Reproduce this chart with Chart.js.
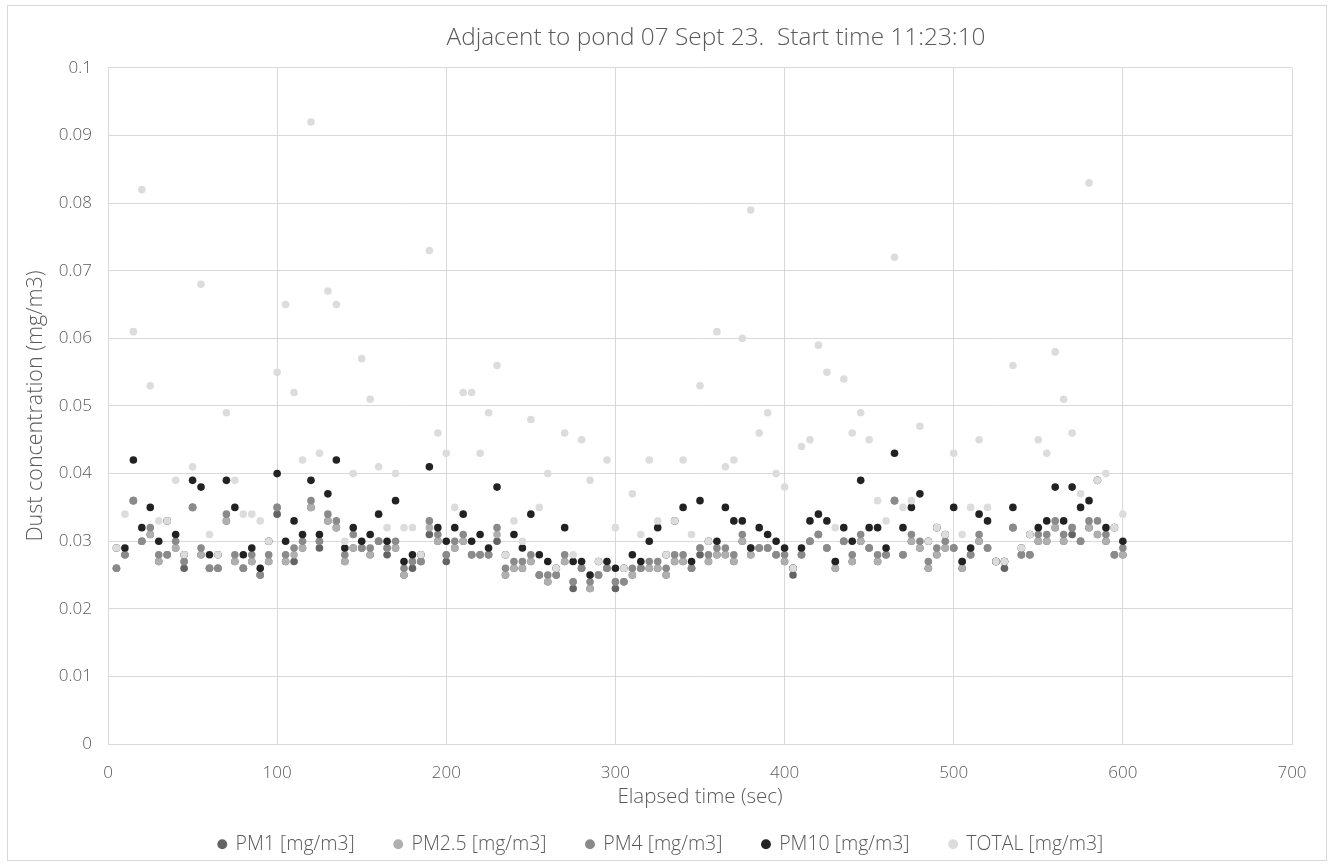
<!DOCTYPE html>
<html>
<head>
<meta charset="utf-8">
<script src="https://cdn.jsdelivr.net/npm/chart.js@4.4.1/dist/chart.umd.min.js"></script>
<style>
  html, body { margin: 0; padding: 0; background: #ffffff; }
  #wrap { position: relative; width: 1335px; height: 867px; }
  #frame { position: absolute; left: 7px; top: 5px; width: 1320px; height: 856px; border: 1px solid #d9d9d9; box-sizing: border-box; pointer-events: none; }
  canvas { position: absolute; left: 0; top: 0; }
</style>
</head>
<body>
<div id="wrap">
  <canvas id="c" width="1335" height="867"></canvas>
  <div id="frame"></div>
</div>
<script>
// Elapsed time (sec)
const elapsed = [5,10,15,20,25,30,35,40,45,50,55,60,65,70,75,80,85,90,95,100,
  105,110,115,120,125,130,135,140,145,150,155,160,165,170,175,180,185,190,195,200,
  205,210,215,220,225,230,235,240,245,250,255,260,265,270,275,280,285,290,295,300,
  305,310,315,320,325,330,335,340,345,350,355,360,365,370,375,380,385,390,395,400,
  405,410,415,420,425,430,435,440,445,450,455,460,465,470,475,480,485,490,495,500,
  505,510,515,520,525,530,535,540,545,550,555,560,565,570,575,580,585,590,595,600];

const pm1 = [
  .026,.028,.036,.030,.031,.027,.028,.029,.026,.035,
  .028,.026,.026,.033,.027,.026,.027,.025,.027,.034,
  .027,.027,.029,.035,.029,.033,.032,.027,.029,.029,
  .028,.030,.028,.029,.025,.026,.027,.031,.030,.027,
  .029,.030,.028,.028,.028,.030,.025,.026,.026,.027,
  .025,.024,.025,.027,.023,.026,.023,.025,.026,.023,
  .024,.025,.026,.026,.026,.025,.027,.027,.026,.028,
  .027,.028,.028,.027,.030,.028,.029,.029,.028,.027,
  .025,.028,.030,.031,.029,.026,.030,.027,.030,.029,
  .027,.028,.036,.028,.030,.029,.026,.028,.029,.029,
  .026,.028,.030,.029,.027,.026,.032,.028,.028,.030,
  .030,.032,.030,.031,.030,.032,.031,.030,.028,.028];

const pm25 = [
  .026,.028,.036,.030,.031,.027,.028,.029,.027,.035,
  .028,.026,.026,.033,.027,.026,.027,.025,.027,.035,
  .027,.028,.029,.035,.030,.033,.032,.027,.029,.029,
  .028,.030,.029,.029,.025,.027,.027,.032,.030,.028,
  .029,.030,.028,.028,.028,.031,.025,.026,.026,.027,
  .025,.024,.025,.027,.024,.026,.023,.025,.026,.024,
  .024,.025,.026,.026,.026,.025,.027,.027,.026,.029,
  .027,.028,.028,.027,.030,.028,.029,.029,.028,.027,
  .026,.028,.030,.031,.029,.026,.030,.027,.030,.029,
  .027,.028,.036,.028,.030,.029,.026,.028,.029,.029,
  .026,.028,.030,.029,.027,.027,.032,.028,.028,.030,
  .030,.032,.030,.032,.030,.032,.031,.030,.028,.028];

const pm4 = [
  .026,.028,.036,.030,.032,.028,.028,.030,.027,.035,
  .029,.026,.026,.034,.028,.026,.028,.025,.028,.035,
  .028,.029,.030,.036,.030,.034,.033,.028,.031,.029,
  .029,.030,.029,.030,.026,.027,.027,.033,.031,.028,
  .030,.031,.028,.028,.028,.032,.026,.027,.027,.028,
  .025,.025,.025,.028,.024,.026,.024,.025,.026,.024,
  .024,.026,.026,.027,.027,.026,.028,.028,.026,.029,
  .028,.029,.029,.028,.031,.029,.029,.029,.028,.028,
  .026,.028,.030,.031,.029,.027,.030,.028,.031,.029,
  .028,.028,.036,.028,.031,.030,.027,.029,.030,.029,
  .027,.028,.031,.029,.027,.027,.032,.028,.028,.031,
  .031,.033,.031,.032,.030,.033,.033,.031,.028,.029];

const pm10 = [
  .029,.029,.042,.032,.035,.030,.033,.031,.028,.039,
  .038,.028,.028,.039,.035,.028,.029,.026,.030,.040,
  .030,.033,.031,.039,.031,.037,.042,.029,.032,.030,
  .031,.034,.030,.036,.027,.028,.028,.041,.032,.030,
  .032,.034,.030,.031,.029,.038,.028,.031,.029,.034,
  .028,.027,.026,.032,.027,.027,.025,.027,.027,.026,
  .026,.028,.027,.030,.032,.028,.033,.035,.027,.036,
  .030,.030,.035,.033,.033,.029,.032,.031,.030,.029,
  .026,.029,.033,.034,.033,.027,.032,.030,.039,.032,
  .032,.029,.043,.032,.035,.037,.030,.032,.031,.035,
  .027,.029,.034,.033,.027,.027,.035,.029,.031,.032,
  .033,.038,.033,.038,.035,.036,.039,.032,.032,.030];

const total = [
  .029,.034,.061,.082,.053,.033,.033,.039,.028,.041,
  .068,.031,.028,.049,.039,.034,.034,.033,.030,.055,
  .065,.052,.042,.092,.043,.067,.065,.030,.040,.057,
  .051,.041,.032,.040,.032,.032,.028,.073,.046,.043,
  .035,.052,.052,.043,.049,.056,.028,.033,.030,.048,
  .035,.040,.026,.046,.028,.045,.039,.027,.042,.032,
  .026,.037,.031,.042,.033,.028,.033,.042,.031,.053,
  .030,.061,.041,.042,.060,.079,.046,.049,.040,.038,
  .026,.044,.045,.059,.055,.032,.054,.046,.049,.045,
  .036,.033,.072,.035,.036,.047,.030,.032,.031,.043,
  .031,.035,.045,.035,.027,.027,.056,.029,.031,.045,
  .043,.058,.051,.046,.037,.083,.039,.040,.032,.034];

const seriesNames = ['PM1 [mg/m3]', 'PM2.5 [mg/m3]', 'PM4 [mg/m3]', 'PM10 [mg/m3]', 'TOTAL [mg/m3]'];
const seriesValues = [pm1, pm25, pm4, pm10, total];
const seriesColors = ['#636363', '#afafaf', '#8a8a8a', '#222222', '#dcdcdc'];

const titleText = 'Adjacent to pond 07 Sept 23.  Start time 11:23:10';
const xTitle = 'Elapsed time (sec)';
const yTitle = 'Dust concentration (mg/m3)';

const FONT = '"Open Sans", Lato, sans-serif';
const TXT = '#595959';

const datasets = seriesValues.map((vals, i) => ({
  label: seriesNames[i],
  data: vals.map((v, k) => ({ x: elapsed[k], y: v })),
  backgroundColor: seriesColors[i],
  borderColor: seriesColors[i],
  borderWidth: 0,
  pointRadius: 3.8,
  pointHoverRadius: 3.8,
  pointStyle: 'circle',
  order: seriesValues.length - 1 - i
}));

// horizontal centring of title and legend as in the original
const TITLE_CENTER = 716;
const LEGEND_CENTER = 661;
const centerPlugin = {
  id: 'centerBlocks',
  afterLayout(chart) {
    const t = chart.titleBlock;
    if (t) { const d = TITLE_CENTER - (t.left + t.right) / 2; t.left += d; t.right += d; }
    const l = chart.legend;
    if (l) { const d = LEGEND_CENTER - (l.left + l.right) / 2; l.left += d; l.right += d; }
  }
};

new Chart(document.getElementById('c'), {
  type: 'scatter',
  data: { datasets },
  plugins: [centerPlugin],
  options: {
    responsive: false,
    animation: false,
    devicePixelRatio: 1,
    layout: { padding: { left: 0, right: 43, top: 0, bottom: 3 } },
    plugins: {
      tooltip: { enabled: false },
      title: {
        display: true,
        text: titleText,
        color: TXT,
        font: { family: FONT, size: 24.4, weight: 300 },
        padding: { top: 23.4, bottom: 15.3 }
      },
      legend: {
        position: 'bottom',
        labels: {
          color: TXT,
          font: { family: FONT, size: 19.5, weight: 300 },
          usePointStyle: true,
          boxWidth: 7,
          boxHeight: 7,
          padding: 40,
          sort: (a, b) => a.datasetIndex - b.datasetIndex
        }
      }
    },
    scales: {
      x: {
        type: 'linear',
        min: 0, max: 700,
        ticks: { stepSize: 100, color: TXT, font: { family: FONT, size: 17, weight: 300 }, padding: 19 },
        grid: { color: '#d9d9d9', drawTicks: false },
        border: { color: '#d9d9d9' },
        title: { display: true, text: xTitle, color: TXT, font: { family: FONT, size: 20.5, weight: 300 }, padding: { top: 0, bottom: -14.8 } },
        afterFit: s => { s.height = 50.5; }
      },
      y: {
        type: 'linear',
        min: 0, max: 0.1,
        ticks: { stepSize: 0.01, color: TXT, font: { family: FONT, size: 17, weight: 300 }, padding: 16,
          callback: v => String(+v.toFixed(2)) },
        grid: { color: '#d9d9d9', drawTicks: false },
        border: { color: '#d9d9d9' },
        title: { display: true, text: yTitle, color: TXT, font: { family: FONT, size: 21.5, weight: 300 }, padding: { top: 23.1, bottom: 0 } },
        afterFit: s => { s.width = 108; }
      }
    }
  }
});
</script>
</body>
</html>
